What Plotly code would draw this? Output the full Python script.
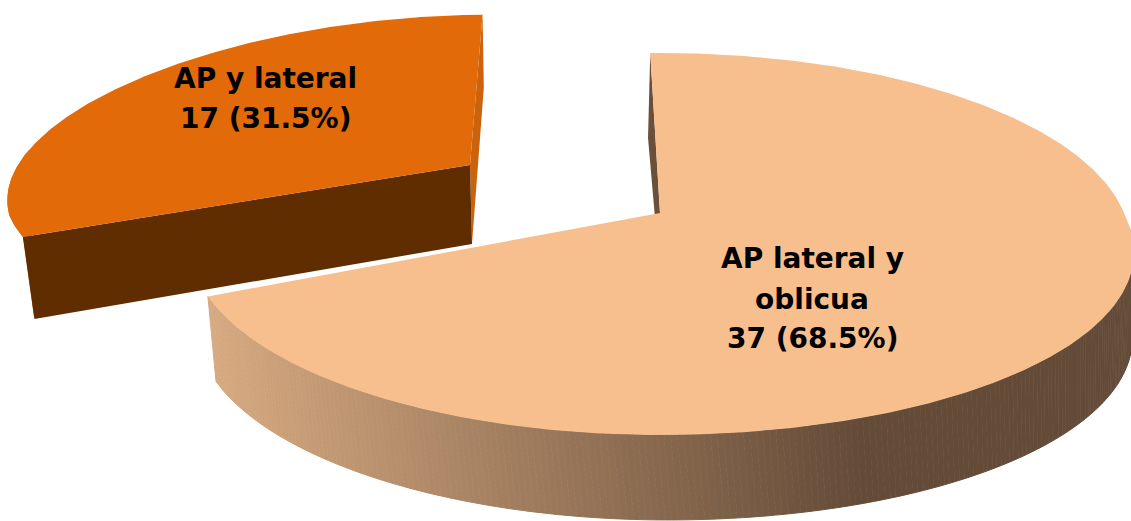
import numpy as np
import plotly.graph_objects as go

# Data
categories = ["AP lateral y oblicua", "AP y lateral"]
label_lines = [["AP lateral y", "oblicua"], ["AP y lateral"]]
values = [37, 17]
percents = [68.5, 31.5]

# Appearance
TOP_COLORS = ["#F6BF8D", "#E26A08"]
WALL_LIGHT = np.array([214, 169, 128])
WALL_DARK = np.array([100, 75, 56])
SMALL_INNER = "#5F2D00"
SMALL_OUTER = "#CB620C"
BIG_INNER = "#6B4F39"
WIDTH, HEIGHT = 1131, 521
START_ANGLE = -1.4

total = sum(values)
a0 = START_ANGLE
a1 = a0 + 360 * values[0] / total
a2 = a1 + 360 * values[1] / total


class Disc:
    """A flat disc seen in perspective; angles run clockwise from the top."""

    def __init__(self, x0, y0, a, b, k, shear=0.0, bulge_lr=0.0, bulge_ul=0.0):
        self.x0, self.y0, self.a, self.b, self.k = x0, y0, a, b, k
        self.shear, self.bulge_lr, self.bulge_ul = shear, bulge_lr, bulge_ul

    def rim(self, deg):
        t = np.radians(np.asarray(deg, dtype=float))
        u, v = np.sin(t), np.cos(t)
        d = 1 + self.k * v
        extra = (self.bulge_lr * np.maximum(u, 0) * np.maximum(-v, 0)
                 + self.bulge_ul * np.maximum(-u, 0) * np.maximum(v + 0.3, 0))
        return self.x0 + (self.a * u + self.shear * v) / d + extra, self.y0 - self.b * v / d


big_top = Disc(660, 213, 464, 186, 0.162, bulge_lr=22)
big_low = Disc(662, 298, 460, 186, 0.162, shear=-5, bulge_lr=18)
small_top = Disc(470, 165, 461, 165, 0.098, 24, bulge_ul=30)
small_low = Disc(472, 244, 451, 172, 0.098, 24)

fig = go.Figure()


def poly(xs, ys, color, line=0):
    fig.add_trace(go.Scatter(
        x=list(xs), y=list(ys), mode="lines", fill="toself", fillcolor=color,
        line=dict(color=color, width=line), hoverinfo="skip", showlegend=False,
    ))


def rgb(c):
    return "rgb(%d,%d,%d)" % tuple(np.round(c))


def arc(d, s, e, n=160):
    return d.rim(np.linspace(s, e, n))


# --- Exploded small slice ---
ax, ay = arc(small_top, a1, a1 + 30)
lx, ly = small_low.rim(a1)
poly(np.r_[ax, lx], np.r_[ay, ly], SMALL_OUTER)
ex, ey = small_top.rim(a2)
fx, fy = small_low.rim(a2)
poly([ex, small_top.x0, small_low.x0, fx], [ey, small_top.y0, small_low.y0, fy], SMALL_OUTER)
sx, sy = small_top.rim(a1)
poly([sx, small_top.x0, small_low.x0, lx], [sy, small_top.y0, small_low.y0, ly], SMALL_INNER)
ax, ay = arc(small_top, a1, a2)
poly(np.r_[small_top.x0, ax], np.r_[small_top.y0, ay], TOP_COLORS[1])

# --- Large slice: inner wall at its start ---
sx, sy = big_top.rim(a0)
lx, ly = big_low.rim(a0)
poly([sx, big_top.x0, big_low.x0, lx], [sy, big_top.y0, big_low.y0, ly], BIG_INNER)

# --- Large slice: outer wall in strips shaded by position ---
edges = np.linspace(100, a1, 220)
for s, e in zip(edges[:-1], edges[1:]):
    tx, ty = arc(big_top, s, e, 3)
    qx, qy = arc(big_low, s, e, 3)
    mid = (tx.mean() + qx.mean()) / 2
    f = np.clip((mid - 215) / (860 - 215), 0, 1)
    col = rgb(WALL_LIGHT + (WALL_DARK - WALL_LIGHT) * f)
    poly(np.r_[tx, qx[::-1]], np.r_[ty, qy[::-1]], col, line=1)

# --- Large slice: top ---
ax, ay = arc(big_top, a0, a1, 400)
poly(np.r_[big_top.x0, ax], np.r_[big_top.y0, ay], TOP_COLORS[0])

# --- Labels, one annotation per line ---
text_x = [812, 265]
text_y = [[258, 299, 338], [78, 118]]
for lines, v, p, x, ys in zip(label_lines, values, percents, text_x, text_y):
    for line, y in zip(lines + [f"{v} ({p}%)"], ys):
        fig.add_annotation(
            x=x, y=y, xref="x", yref="y", showarrow=False, align="center",
            text=f"<b>{line}</b>",
            font=dict(family="DejaVu Sans", size=28, color="#000000"),
        )

fig.update_xaxes(range=[0, WIDTH], visible=False, fixedrange=True)
fig.update_yaxes(range=[HEIGHT, 0], visible=False, fixedrange=True)
fig.update_layout(
    width=WIDTH, height=HEIGHT, margin=dict(l=0, r=0, t=0, b=0),
    paper_bgcolor="white", plot_bgcolor="white", showlegend=False,
)
fig.write_html(
    "out.html", config={"displayModeBar": False},
    post_script="document.body.style.margin='0';",
)
